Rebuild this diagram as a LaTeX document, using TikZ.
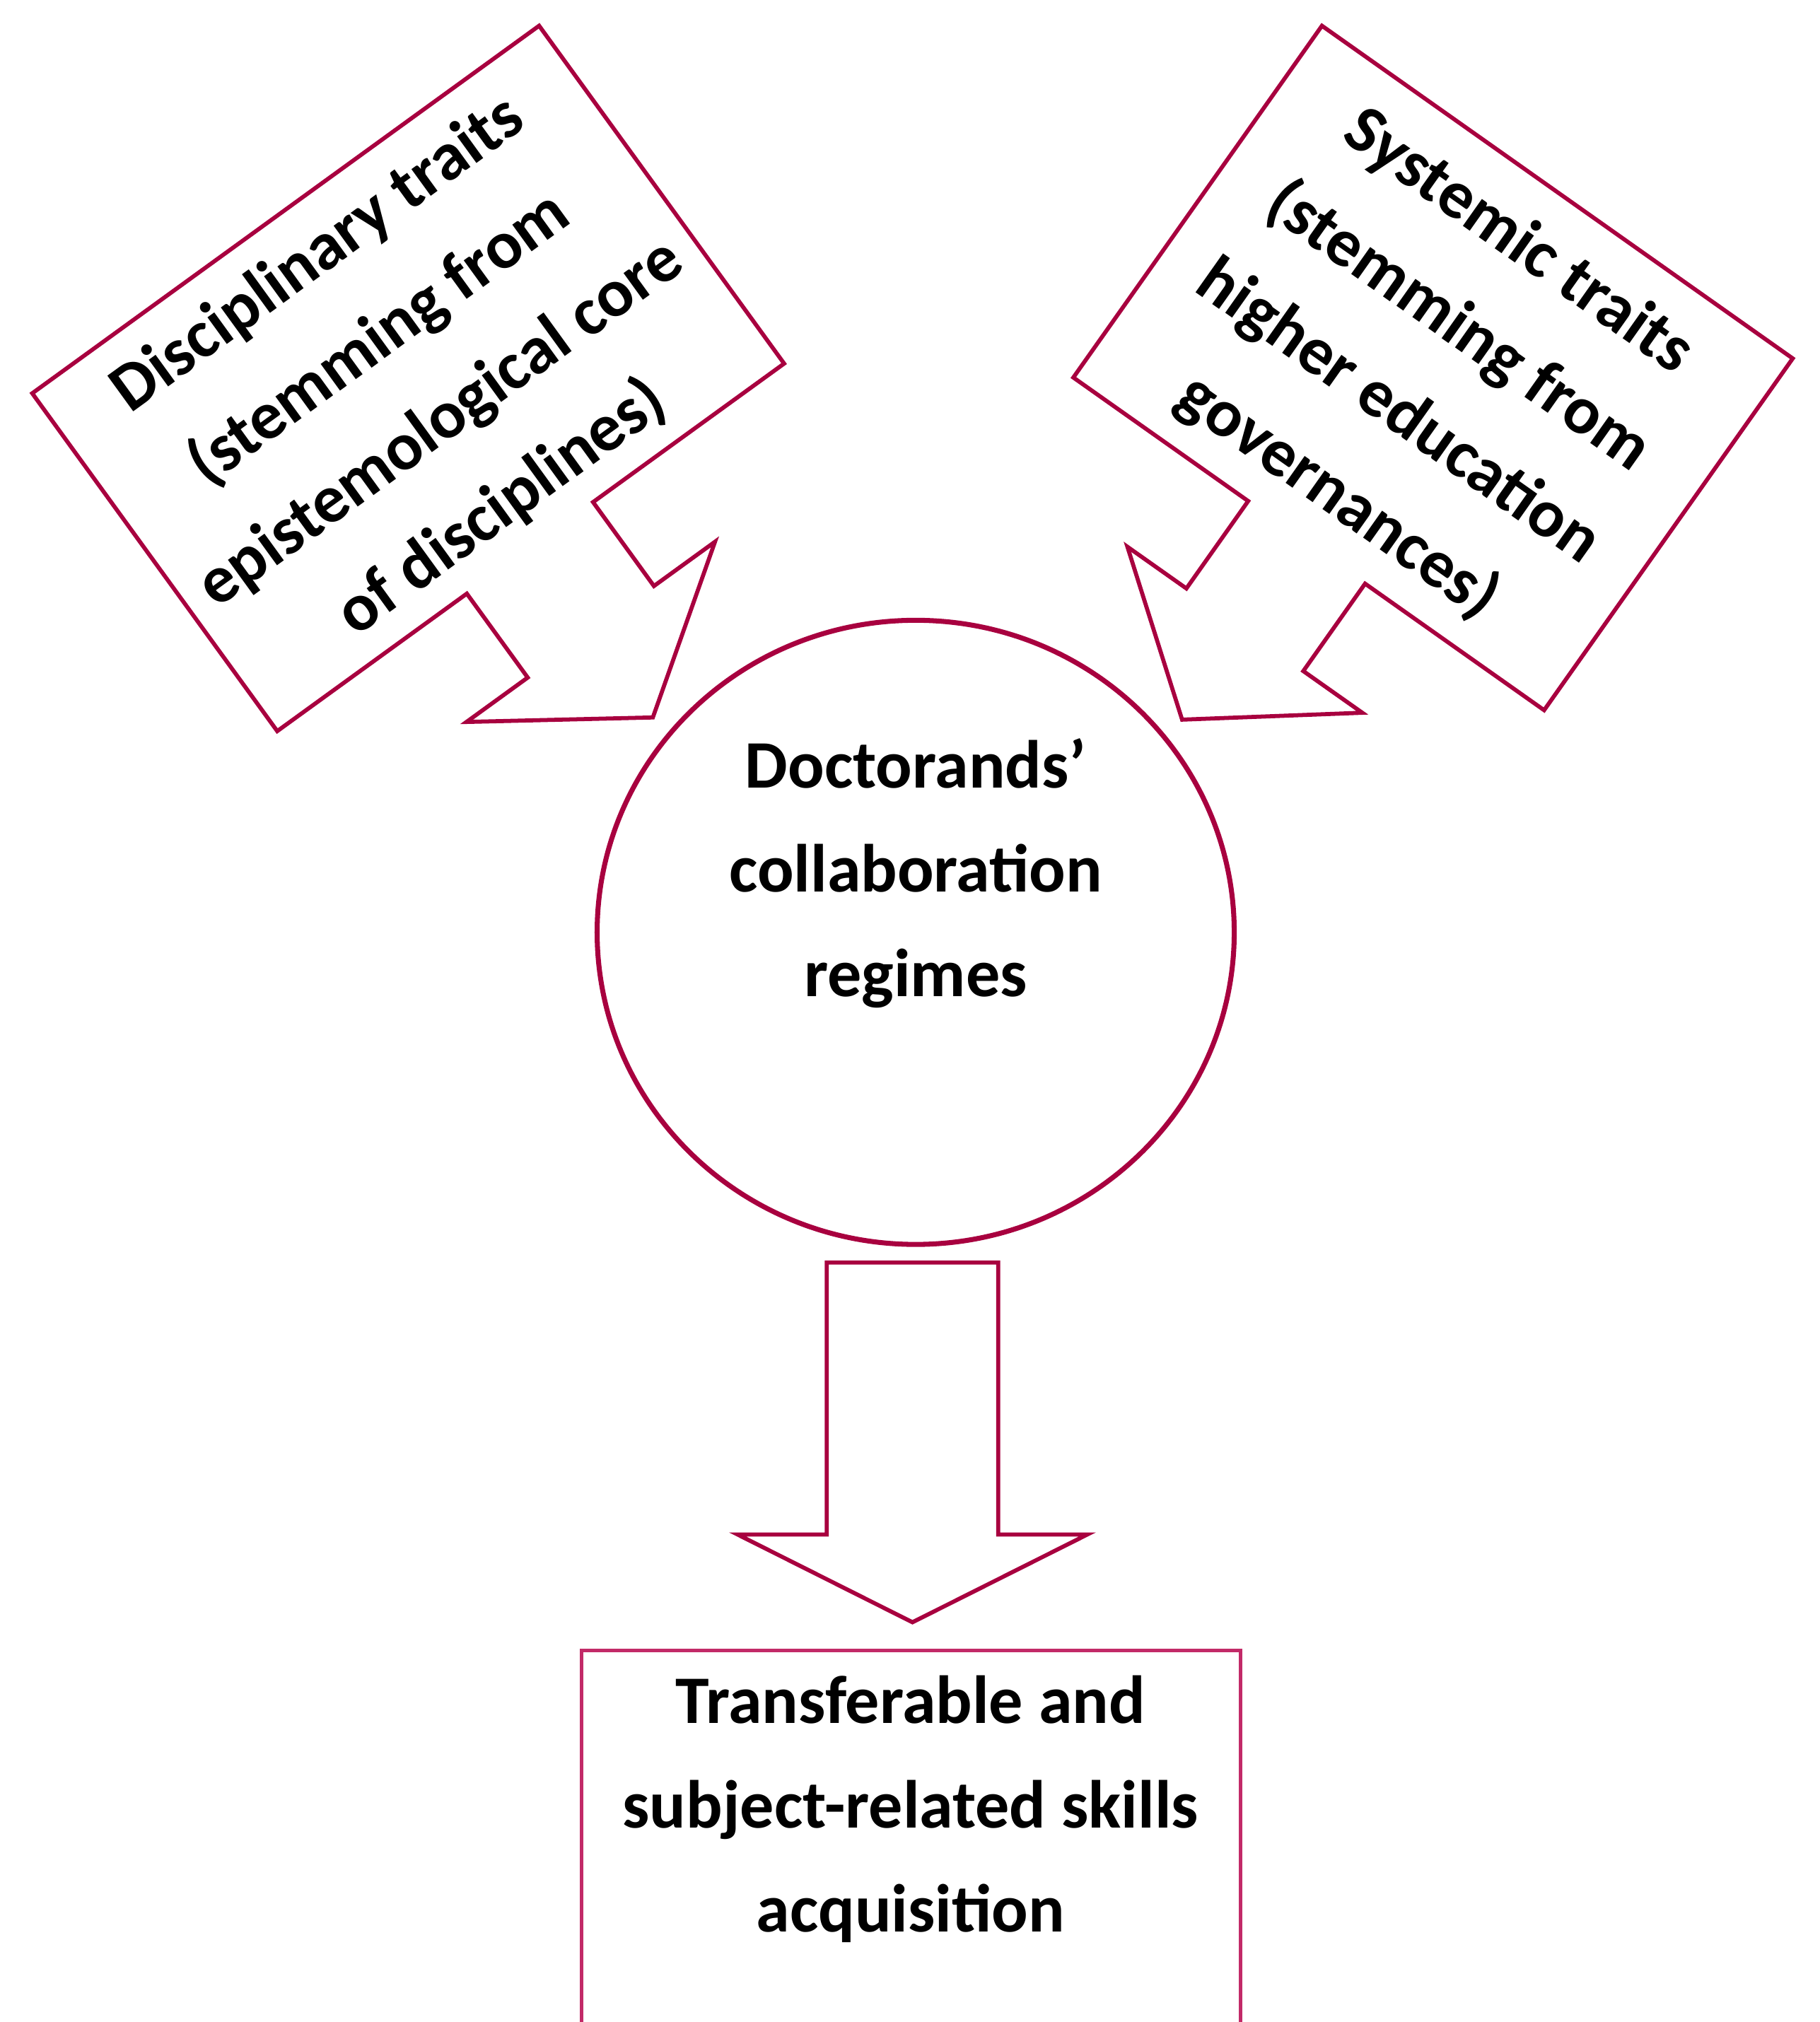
\documentclass[tikz,border=0pt]{standalone}
\usepackage{fontspec}
\setmainfont{Carlito}
\usepackage{tikz}
\usetikzlibrary{shapes.geometric}
\definecolor{crim}{HTML}{A8003F}
\definecolor{rosebox}{HTML}{C22A68}
\tikzset{
    outl/.style={draw=crim, line width=0.9pt, line join=miter},
    lbl/.style={align=center, font=\bfseries\fontsize{15}{23}\selectfont}
}

\begin{document}
\begin{tikzpicture}
            \useasboundingbox (0,0) rectangle (14.11,-15.68);
            \begin{scope}[shift={(0.25,-3.05)}, rotate=35.95]
                \draw[outl] (0,0) -- (4.855,0) -- (4.855,-3.236) -- (3.025,-3.236) -- (3.025,-4.04) -- (3.61,-4.04)
                    -- (2.42,-4.86) -- (1.23,-4.04) -- (1.816,-4.04) -- (1.816,-3.236) -- (0,-3.236) -- cycle;
            \end{scope}
            \node[lbl, rotate=35.95] (disc) at (3.18,-2.96) {Disciplinary traits\\(stemming from\\epistemological core\\of disciplines)};
            \begin{scope}[shift={(10.25,-0.20)}, rotate=-35.25]
                \draw[outl] (0,0) -- (4.47,0) -- (4.47,-3.34) -- (2.77,-3.34) -- (2.77,-4.17) -- (3.33,-4.17)
                    -- (2.22,-5.02) -- (1.10,-4.17) -- (1.66,-4.17) -- (1.66,-3.34) -- (0,-3.34) -- cycle;
            \end{scope}
            \node[lbl, rotate=-35.25] (syst) at (11.07,-2.87) {Systemic traits\\(stemming from\\higher education\\governances)};
            \node[draw=crim, line width=1.1pt, ellipse, inner sep=0pt, minimum width=4.94cm, minimum height=4.84cm] (regime) at (7.10,-7.23) {};
            \node[lbl] (regtxt) at (7.10,-6.77) {Doctorands’\\collaboration\\regimes};
            \draw[outl] (6.41,-9.79) -- (7.74,-9.79) -- (7.74,-11.90) -- (8.43,-11.90) -- (7.075,-12.58)
                -- (5.72,-11.90) -- (6.41,-11.90) -- cycle;
            \draw[draw=rosebox, line width=0.85pt] (4.51,-15.8) -- (4.51,-12.80) -- (9.62,-12.80) -- (9.62,-15.8);
            \node[lbl] (skills) at (7.06,-14.03) {Transferable and\\subject-related skills\\acquisition};
        \end{tikzpicture}
\end{document}
